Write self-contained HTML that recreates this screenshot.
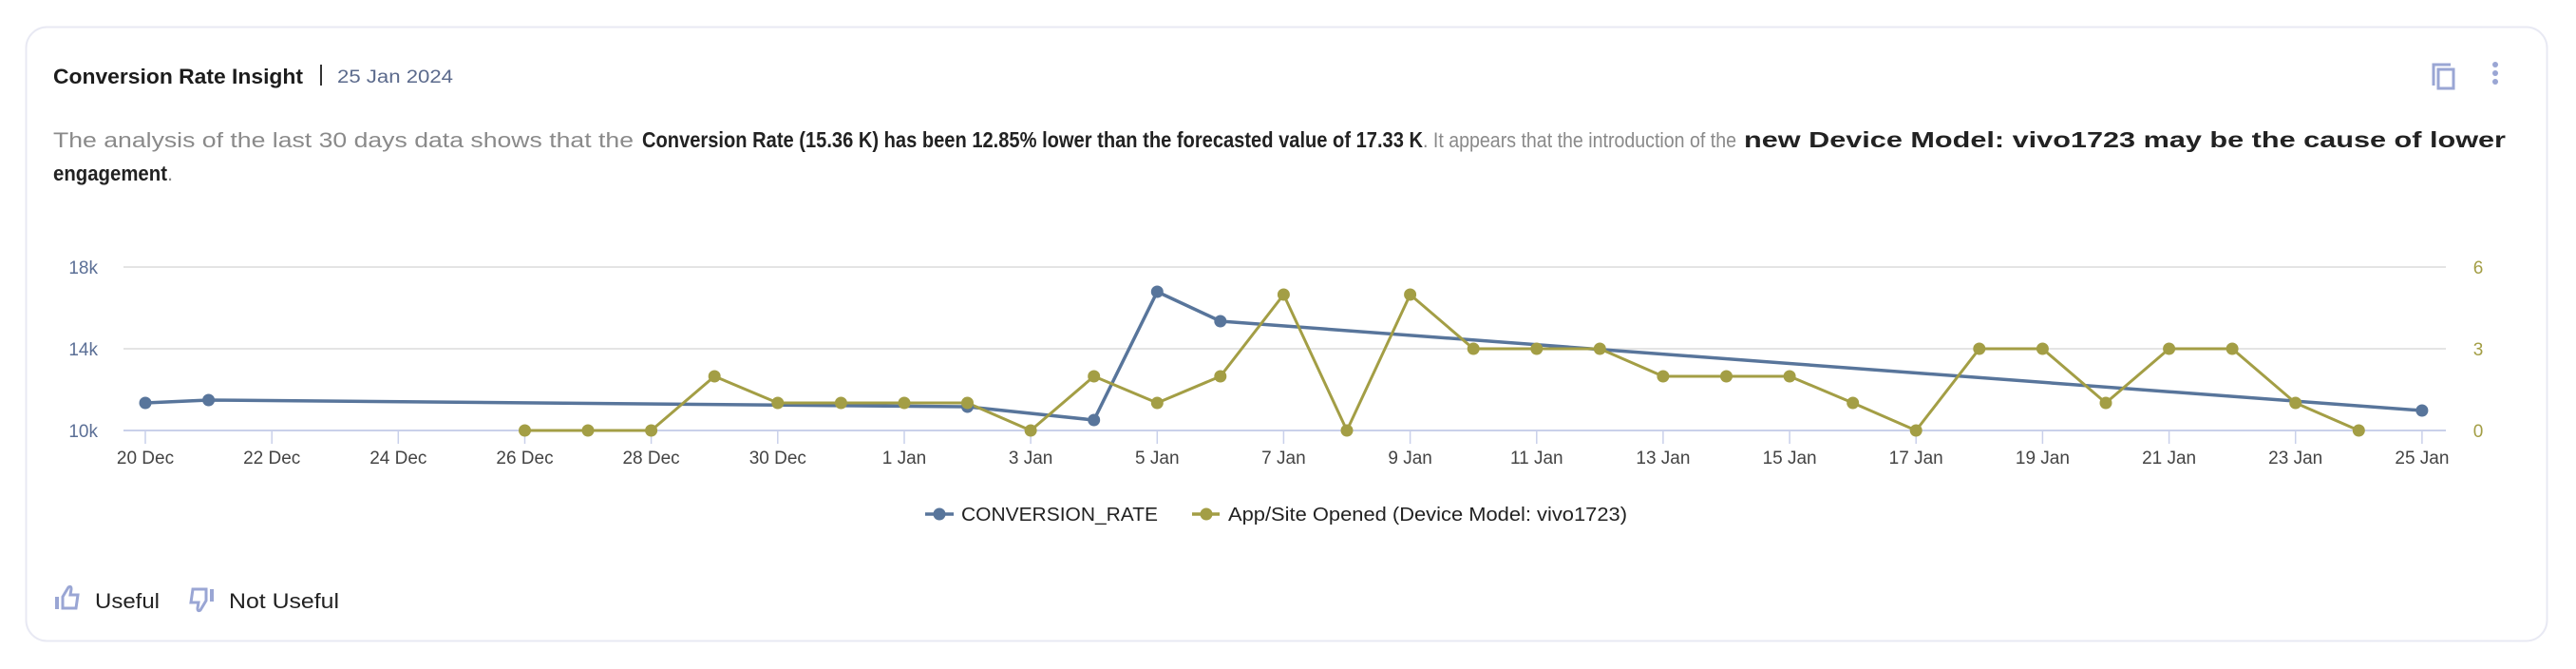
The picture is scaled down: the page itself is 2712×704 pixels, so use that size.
<!DOCTYPE html>
<html><head><meta charset="utf-8"><style>
html,body{margin:0;padding:0;background:#fff;}
svg{display:block;font-family:"Liberation Sans",sans-serif;}
</style></head><body>
<svg width="2712" height="704" viewBox="0 0 2712 704" xmlns="http://www.w3.org/2000/svg">
<rect x="27.5" y="28.5" width="2654" height="646" rx="22" fill="#fff" stroke="#e8e9f3" stroke-width="2"/>
<text x="56" y="88" font-size="22" font-weight="bold" fill="#1c1c1c" textLength="263" lengthAdjust="spacingAndGlyphs">Conversion Rate Insight</text>
<rect x="337" y="68" width="2" height="22" fill="#333"/>
<text x="355" y="87" font-size="19" fill="#5b6a8c" textLength="122" lengthAdjust="spacingAndGlyphs">25 Jan 2024</text>
<g fill="none" stroke="#9aa6d4" stroke-width="3">
<path d="M2562 90 V68 H2580"/><rect x="2567" y="73" width="16" height="20"/>
</g>
<g fill="#9aa6d4"><circle cx="2627" cy="68" r="3"/><circle cx="2627" cy="77" r="3"/><circle cx="2627" cy="86" r="3"/></g>
<text y="155" font-size="22" fill="#8a8a8a">
<tspan x="56" textLength="611" lengthAdjust="spacingAndGlyphs">The analysis of the last 30 days data shows that the</tspan><tspan x="676" fill="#222" font-weight="bold" font-size="23" textLength="822" lengthAdjust="spacingAndGlyphs">Conversion Rate (15.36 K) has been 12.85% lower than the forecasted value of 17.33 K</tspan><tspan x="1498" textLength="330" lengthAdjust="spacingAndGlyphs">. It appears that the introduction of the</tspan><tspan x="1836" fill="#222" font-weight="bold" font-size="23" textLength="802" lengthAdjust="spacingAndGlyphs">new Device Model: vivo1723 may be the cause of lower</tspan>
</text>
<text y="190" font-size="22" fill="#8a8a8a"><tspan x="56" fill="#222" font-weight="bold" textLength="120" lengthAdjust="spacingAndGlyphs">engagement</tspan><tspan>.</tspan></text>
<g stroke="#e4e4e4" stroke-width="2"><line x1="130" y1="281" x2="2575" y2="281"/><line x1="130" y1="367" x2="2575" y2="367"/></g>
<line x1="130" y1="453" x2="2575" y2="453" stroke="#c9d0ea" stroke-width="2"/>
<g stroke="#c9d0ea" stroke-width="1.5">
<line x1="153" y1="453" x2="153" y2="467"/><line x1="286.2" y1="453" x2="286.2" y2="467"/><line x1="419.3" y1="453" x2="419.3" y2="467"/><line x1="552.5" y1="453" x2="552.5" y2="467"/><line x1="685.6" y1="453" x2="685.6" y2="467"/><line x1="818.8" y1="453" x2="818.8" y2="467"/><line x1="952" y1="453" x2="952" y2="467"/><line x1="1085.1" y1="453" x2="1085.1" y2="467"/><line x1="1218.3" y1="453" x2="1218.3" y2="467"/><line x1="1351.4" y1="453" x2="1351.4" y2="467"/><line x1="1484.6" y1="453" x2="1484.6" y2="467"/><line x1="1617.8" y1="453" x2="1617.8" y2="467"/><line x1="1750.9" y1="453" x2="1750.9" y2="467"/><line x1="1884.1" y1="453" x2="1884.1" y2="467"/><line x1="2017.2" y1="453" x2="2017.2" y2="467"/><line x1="2150.4" y1="453" x2="2150.4" y2="467"/><line x1="2283.6" y1="453" x2="2283.6" y2="467"/><line x1="2416.7" y1="453" x2="2416.7" y2="467"/><line x1="2549.9" y1="453" x2="2549.9" y2="467"/>
</g>
<g font-size="19" fill="#444" text-anchor="middle">
<text x="153" y="488">20 Dec</text><text x="286.2" y="488">22 Dec</text><text x="419.3" y="488">24 Dec</text><text x="552.5" y="488">26 Dec</text><text x="685.6" y="488">28 Dec</text><text x="818.8" y="488">30 Dec</text><text x="952" y="488">1 Jan</text><text x="1085.1" y="488">3 Jan</text><text x="1218.3" y="488">5 Jan</text><text x="1351.4" y="488">7 Jan</text><text x="1484.6" y="488">9 Jan</text><text x="1617.8" y="488">11 Jan</text><text x="1750.9" y="488">13 Jan</text><text x="1884.1" y="488">15 Jan</text><text x="2017.2" y="488">17 Jan</text><text x="2150.4" y="488">19 Jan</text><text x="2283.6" y="488">21 Jan</text><text x="2416.7" y="488">23 Jan</text><text x="2549.9" y="488">25 Jan</text>
</g>
<g font-size="19" fill="#5b6f96" text-anchor="end"><text x="103" y="288">18k</text><text x="103" y="374">14k</text><text x="103" y="460">10k</text></g>
<g font-size="19" fill="#a39e45" text-anchor="middle"><text x="2609" y="288">6</text><text x="2609" y="374">3</text><text x="2609" y="460">0</text></g>
<polyline fill="none" stroke="#58759b" stroke-width="3.5" stroke-linejoin="round" points="153,424 219.6,421 1018.5,428 1151.7,442 1218.3,307 1284.8,338 2549.9,432"/>
<polyline fill="none" stroke="#a39e45" stroke-width="3" stroke-linejoin="round" points="552.5,453 619,453 685.6,453 752.2,396 818.8,424 885.4,424 952,424 1018.5,424 1085.1,453 1151.7,396 1218.3,424 1284.8,396 1351.4,310 1418,453 1484.6,310 1551.2,367 1617.8,367 1684.3,367 1750.9,396 1817.5,396 1884.1,396 1950.7,424 2017.2,453 2083.8,367 2150.4,367 2217,424 2283.6,367 2350.1,367 2416.7,424 2483.3,453"/>
<g fill="#58759b"><circle cx="153" cy="424" r="6.5"/><circle cx="219.6" cy="421" r="6.5"/><circle cx="1018.5" cy="428" r="6.5"/><circle cx="1151.7" cy="442" r="6.5"/><circle cx="1218.3" cy="307" r="6.5"/><circle cx="1284.8" cy="338" r="6.5"/><circle cx="2549.9" cy="432" r="6.5"/></g>
<g fill="#a39e45"><circle cx="552.5" cy="453" r="6.5"/><circle cx="619" cy="453" r="6.5"/><circle cx="685.6" cy="453" r="6.5"/><circle cx="752.2" cy="396" r="6.5"/><circle cx="818.8" cy="424" r="6.5"/><circle cx="885.4" cy="424" r="6.5"/><circle cx="952" cy="424" r="6.5"/><circle cx="1018.5" cy="424" r="6.5"/><circle cx="1085.1" cy="453" r="6.5"/><circle cx="1151.7" cy="396" r="6.5"/><circle cx="1218.3" cy="424" r="6.5"/><circle cx="1284.8" cy="396" r="6.5"/><circle cx="1351.4" cy="310" r="6.5"/><circle cx="1418" cy="453" r="6.5"/><circle cx="1484.6" cy="310" r="6.5"/><circle cx="1551.2" cy="367" r="6.5"/><circle cx="1617.8" cy="367" r="6.5"/><circle cx="1684.3" cy="367" r="6.5"/><circle cx="1750.9" cy="396" r="6.5"/><circle cx="1817.5" cy="396" r="6.5"/><circle cx="1884.1" cy="396" r="6.5"/><circle cx="1950.7" cy="424" r="6.5"/><circle cx="2017.2" cy="453" r="6.5"/><circle cx="2083.8" cy="367" r="6.5"/><circle cx="2150.4" cy="367" r="6.5"/><circle cx="2217" cy="424" r="6.5"/><circle cx="2283.6" cy="367" r="6.5"/><circle cx="2350.1" cy="367" r="6.5"/><circle cx="2416.7" cy="424" r="6.5"/><circle cx="2483.3" cy="453" r="6.5"/></g>
<line x1="974" y1="541" x2="1004" y2="541" stroke="#58759b" stroke-width="3.5"/><circle cx="989" cy="541" r="6.5" fill="#58759b"/>
<text x="1012" y="548" font-size="20" fill="#222" textLength="207" lengthAdjust="spacingAndGlyphs">CONVERSION_RATE</text>
<line x1="1255" y1="541" x2="1284" y2="541" stroke="#a39e45" stroke-width="3.5"/><circle cx="1270" cy="541" r="6.5" fill="#a39e45"/>
<text x="1293" y="548" font-size="20" fill="#222" textLength="420" lengthAdjust="spacingAndGlyphs">App/Site Opened (Device Model: vivo1723)</text>
<g fill="none" stroke="#9aa6d4" stroke-width="3">
<rect x="58" y="628" width="4" height="13" fill="#9aa6d4" stroke="none"/>
<path d="M66 640 V628 L72 618 Q75 616 75 620 L74 626 H82 L80 640 Z"/>
<rect x="221" y="620" width="4" height="13" fill="#9aa6d4" stroke="none"/>
<path d="M217 620 V632 L211 642 Q208 644 208 640 L209 634 H201 L203 620 Z"/>
</g>
<text x="100" y="640" font-size="22" fill="#222" textLength="68" lengthAdjust="spacingAndGlyphs">Useful</text>
<text x="241" y="640" font-size="22" fill="#222" textLength="116" lengthAdjust="spacingAndGlyphs">Not Useful</text>
</svg>
</body></html>
